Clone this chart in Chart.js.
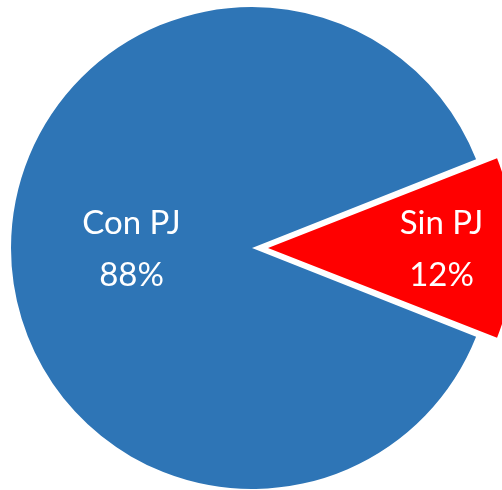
<!DOCTYPE html>
<html>
<head>
<meta charset="utf-8">
<script src="https://cdn.jsdelivr.net/npm/chart.js@4"></script>
<style>
    body { margin: 0; background: #ffffff; }
    #wrap { width: 502px; height: 490px; }
</style>
</head>
<body>
<div id="wrap"><canvas id="myChart"></canvas></div>
<script>
const labels = ['Con PJ', 'Sin PJ'];
const values = [88, 12];
const colors = ['#2E75B6', '#FF0000'];

// label text drawn on each slice, at a fraction of the radius
const labelPlugin = {
    id: 'sliceLabels',
    afterDatasetsDraw(chart) {
        const ctx = chart.ctx;
        const arcs = chart.getDatasetMeta(0).data;
        const fractions = [0.5, 0.72];
        ctx.save();
        ctx.font = '33px Lato';
        ctx.fillStyle = '#ffffff';
        ctx.textAlign = 'center';
        ctx.textBaseline = 'middle';
        arcs.forEach((arc, i) => {
            const p = arc.getProps(['x', 'y', 'startAngle', 'endAngle', 'outerRadius']);
            const mid = (p.startAngle + p.endAngle) / 2;
            // arc elements shift by offset / 4
            const shift = chart.data.datasets[0].offset[i] / 4;
            const r = p.outerRadius * fractions[i] + shift;
            const x = p.x + Math.cos(mid) * r;
            const y = p.y + Math.sin(mid) * r;
            ctx.fillText(labels[i], x, y - 25);
            ctx.fillText(values[i] + '%', x, y + 27);
        });
        ctx.restore();
    }
};

const ctx = document.getElementById('myChart').getContext('2d');
const myChart = new Chart(ctx, {
    type: 'pie',
    data: {
        labels: labels,
        datasets: [{
            data: values,
            backgroundColor: colors,
            borderWidth: 0,
            offset: [0, 64]
        }]
    },
    options: {
        responsive: true,
        maintainAspectRatio: false,
        animation: false,
        rotation: 111.6,
        radius: 241,
        layout: { padding: { left: 2, top: 6, right: 0, bottom: 0 } },
        plugins: {
            legend: { display: false },
            tooltip: { enabled: false }
        }
    },
    plugins: [labelPlugin]
});
</script>
</body>
</html>
